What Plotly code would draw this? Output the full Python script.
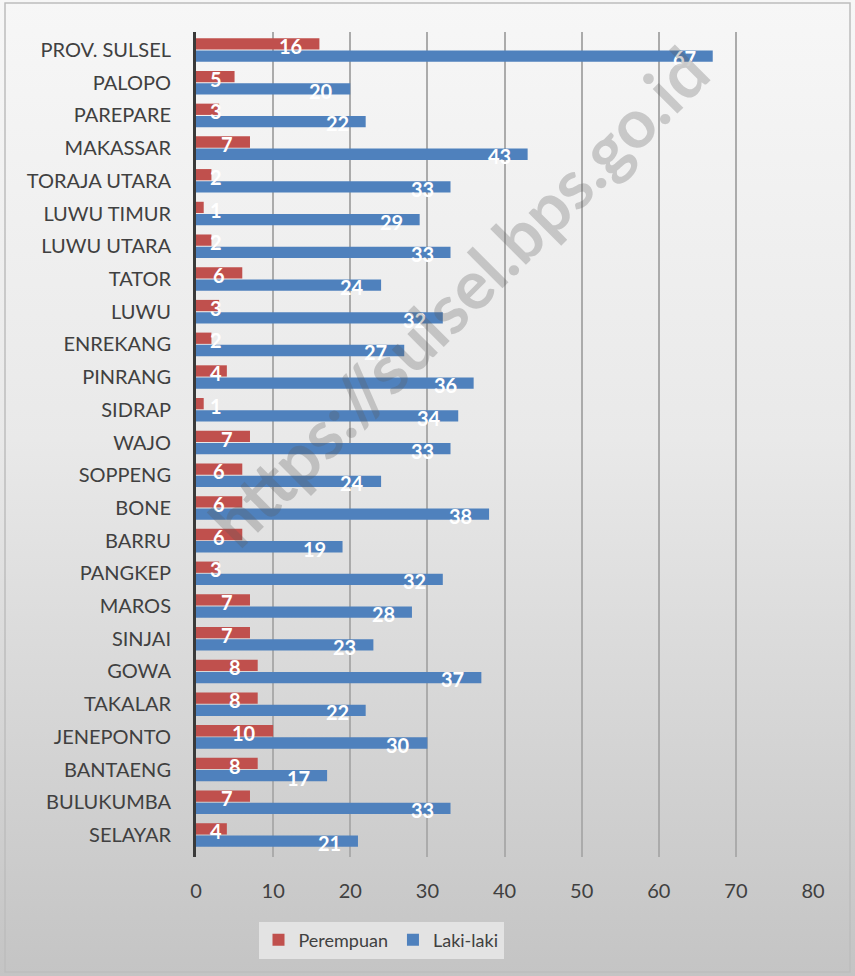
import base64
import plotly.graph_objects as go

categories = ["SELAYAR", "BULUKUMBA", "BANTAENG", "JENEPONTO", "TAKALAR", "GOWA",
              "SINJAI", "MAROS", "PANGKEP", "BARRU", "BONE", "SOPPENG", "WAJO",
              "SIDRAP", "PINRANG", "ENREKANG", "LUWU", "TATOR", "LUWU UTARA",
              "LUWU TIMUR", "TORAJA UTARA", "MAKASSAR", "PAREPARE", "PALOPO",
              "PROV. SULSEL"]
perempuan = [4, 7, 8, 10, 8, 8, 7, 7, 3, 6, 6, 6, 7, 1, 4, 2, 3, 6, 2, 1, 2, 7, 3, 5, 16]
laki_laki = [21, 33, 17, 30, 22, 37, 23, 28, 32, 19, 38, 24, 33, 34, 36, 27, 32, 24, 33, 29, 33, 43, 22, 20, 67]
x_ticks = [0, 10, 20, 30, 40, 50, 60, 70, 80]

W, H = 855, 976
ML, MR, MT, MB = 196, 42, 32, 119
PW, PH = W - ML - MR, H - MT - MB

FONT = "Lato"
RED = "#c0504d"
BLUE = "#4f81bd"

# background gradient as an svg image
svg = f'''<svg xmlns="http://www.w3.org/2000/svg" width="{W}" height="{H}" viewBox="0 0 {W} {H}" preserveAspectRatio="none">
<defs><linearGradient id="g" x1="0" y1="0" x2="0" y2="1">
<stop offset="0" stop-color="#f7f7f7"/><stop offset="0.45" stop-color="#e9e9e9"/><stop offset="1" stop-color="#c4c4c4"/>
</linearGradient></defs>
<rect x="0" y="0" width="{W}" height="{H}" fill="url(#g)"/>
</svg>'''
src = "data:image/svg+xml;base64," + base64.b64encode(svg.encode()).decode()

def px(x):
    return (x - ML) / PW

def py(y):
    return (H - MB - y) / PH

fig = go.Figure()
fig.add_trace(go.Bar(y=categories, x=laki_laki, orientation="h", name="Laki-laki",
                     marker=dict(color=BLUE, line=dict(width=0)), legendrank=2))
fig.add_trace(go.Bar(y=categories, x=perempuan, orientation="h", name="Perempuan",
                     marker=dict(color=RED, line=dict(width=0)), legendrank=1))

annotations = []
for c, p, l in zip(categories, perempuan, laki_laki):
    annotations.append(dict(x=max(p, 5.6), y=c, xref="x", yref="y", text=str(p), showarrow=False,
                            xanchor="right", yanchor="middle", xshift=-15, yshift=4,
                            font=dict(family=FONT, size=20, color="white", weight="bold")))
    annotations.append(dict(x=max(l, 5.6), y=c, xref="x", yref="y", text=str(l), showarrow=False,
                            xanchor="right", yanchor="middle", xshift=-15, yshift=-8,
                            font=dict(family=FONT, size=20, color="white", weight="bold")))

annotations.append(dict(x=px(458), y=py(296), xref="paper", yref="paper",
                        text="https://sulsel.bps.go.id", showarrow=False, textangle=-45,
                        xanchor="center", yanchor="middle",
                        font=dict(family=FONT, size=68, color="rgba(90,90,90,0.28)", weight="bold")))

fig.update_layout(
    width=W, height=H,
    margin=dict(l=ML, r=MR, t=MT, b=MB),
    paper_bgcolor="#e0e0e0",
    plot_bgcolor="rgba(0,0,0,0)",
    barmode="group", bargap=0.25, bargroupgap=0.08,
    font=dict(family=FONT, color="#404040"),
    showlegend=True,
    legend=dict(orientation="h", x=px(381), y=py(940), xanchor="center", yanchor="middle",
                bgcolor="rgba(236,236,236,0.75)", font=dict(family=FONT, size=18, color="#404040"),
                itemwidth=30, traceorder="normal"),
    annotations=annotations,
    images=[dict(source=src, xref="paper", yref="paper", x=px(0), y=py(0),
                 sizex=W / PW, sizey=H / PH, xanchor="left", yanchor="top",
                 sizing="stretch", layer="below")],
    shapes=[dict(type="rect", xref="paper", yref="paper", x0=px(5), x1=px(850), y0=py(972), y1=py(3),
                 line=dict(color="#bdbdbd", width=1.5), fillcolor="rgba(0,0,0,0)", layer="below")],
)
fig.update_xaxes(range=[0, 80], tickvals=x_ticks, ticktext=[str(t) for t in x_ticks],
                 showgrid=True, gridcolor="#ababab", gridwidth=2, zeroline=False,
                 showline=False, ticks="outside", ticklen=0, ticklabelstandoff=16,
                 tickfont=dict(family=FONT, size=20, color="#404040"), fixedrange=True)
fig.update_yaxes(categoryorder="array", categoryarray=categories, showgrid=False,
                 showline=True, linecolor="#3a3a3a", linewidth=3, zeroline=False,
                 ticks="outside", ticklen=0, ticklabelstandoff=18,
                 tickfont=dict(family=FONT, size=20, color="#404040"), fixedrange=True)

fig.write_html("out.html", config={"displayModeBar": False},
               post_script="document.body.style.margin='0';document.body.style.padding='0';")
